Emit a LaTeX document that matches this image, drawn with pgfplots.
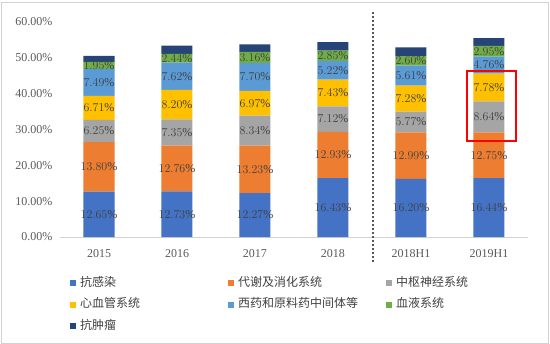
\documentclass[border=0pt]{standalone}
\usepackage{pgfplots}
\pgfplotsset{compat=1.18}
\usepackage{pgfplotstable}
\usepackage{fontspec}
\setmainfont{Liberation Serif}
\newfontfamily\cjk{Noto Sans CJK SC}
\definecolor{c1}{HTML}{4472C4}
\definecolor{c2}{HTML}{ED7D31}
\definecolor{c3}{HTML}{A5A5A5}
\definecolor{c4}{HTML}{FFC000}
\definecolor{c5}{HTML}{5B9BD5}
\definecolor{c6}{HTML}{70AD47}
\definecolor{c7}{HTML}{264478}
\definecolor{lbl}{HTML}{404040}
\definecolor{tk}{HTML}{595959}

\pgfplotstableread{
x inf met cns cv api blood onc
0 12.65 13.80 6.25 6.71 7.49 1.95 1.70
1 12.73 12.76 7.35 8.20 7.62 2.44 2.30
2 12.27 13.23 8.34 6.97 7.70 3.16 2.10
3 16.43 12.93 7.12 7.43 5.22 2.85 2.40
4 16.20 12.99 5.77 7.28 5.61 2.60 2.50
5 16.44 12.75 8.64 7.78 4.76 2.95 2.20
}\data

\pgfplotsset{
 common/.style={
  scale only axis,
  width=468bp, height=215bp,
  at={(60bp,107bp)}, anchor=south west,
  xmin=-0.5, xmax=5.5,
  ymin=0, ymax=60,
 },
 lbl/.style={
   draw=none, mark=none,
   nodes near coords={\pgfmathprintnumber[fixed,fixed zerofill,precision=2]{\pgfplotspointmeta}\%},
   point meta=explicit,
   every node near coord/.append style={anchor=center, font=\fontsize{12bp}{14bp}\selectfont, text=lbl, inner sep=0pt},
 },
}

\begin{document}
\begin{tikzpicture}
\path[use as bounding box] (0,0) rectangle (550bp,344bp);
\draw[gray!35, line width=0.8bp] (1bp,1bp) rectangle (548.5bp,342bp);
\begin{axis}[
  common,
  ybar stacked,
  bar width=31bp,
  xtick=data,
  xticklabels={2015,2016,2017,2018,2018H1,2019H1},
  ytick={0,10,20,30,40,50,60},
  yticklabels={0.00\%,10.00\%,20.00\%,30.00\%,40.00\%,50.00\%,60.00\%},
  major tick length=0pt,
  axis x line*=bottom,
  axis y line*=left,
  x axis line style={draw=gray!35, line width=0.8bp, -},
  y axis line style={draw=none},
  tick label style={font=\fontsize{12bp}{14bp}\selectfont, text=tk},
  xticklabel style={yshift=-9bp},
  yticklabel style={xshift=-4bp},
  clip=false,
  legend columns=3,
  legend cell align=left,
  legend image code/.code={\fill[#1,draw=none] (0bp,-3bp) rectangle (6bp,3bp);},
  legend style={draw=none, fill=none, inner sep=0pt, anchor=north west,
    at={(axis description cs:0.0214,-0.186)},
    row sep=9.5bp,
    nodes={inner sep=0pt, text height=9bp, text depth=3bp, font=\cjk\fontsize{12bp}{14bp}\selectfont, text=lbl},
    /tikz/every odd column/.append style={column sep=4bp}},
]
\addplot[fill=c1, draw=none] table[x=x,y=inf]{\data};
\addplot[fill=c2, draw=none] table[x=x,y=met]{\data};
\addplot[fill=c3, draw=none] table[x=x,y=cns]{\data};
\addplot[fill=c4, draw=none] table[x=x,y=cv]{\data};
\addplot[fill=c5, draw=none] table[x=x,y=api]{\data};
\addplot[fill=c6, draw=none] table[x=x,y=blood]{\data};
\addplot[fill=c7, draw=none] table[x=x,y=onc]{\data};
\legend{\makebox[148bp][l]{抗感染},\makebox[148bp][l]{代谢及消化系统},\makebox[148bp][l]{中枢神经系统},
        \makebox[148bp][l]{心血管系统},\makebox[148bp][l]{西药和原料药中间体等},\makebox[148bp][l]{血液系统},
        \makebox[148bp][l]{抗肿瘤}}
\end{axis}
\begin{axis}[common, hide axis, clip=false]
\addplot[lbl] table[x=x, y expr={\thisrow{inf}/2}, meta=inf]{\data};
\addplot[lbl] table[x=x, y expr={\thisrow{inf}+\thisrow{met}/2}, meta=met]{\data};
\addplot[lbl] table[x=x, y expr={\thisrow{inf}+\thisrow{met}+\thisrow{cns}/2}, meta=cns]{\data};
\addplot[lbl] table[x=x, y expr={\thisrow{inf}+\thisrow{met}+\thisrow{cns}+\thisrow{cv}/2}, meta=cv]{\data};
\addplot[lbl] table[x=x, y expr={\thisrow{inf}+\thisrow{met}+\thisrow{cns}+\thisrow{cv}+\thisrow{api}/2}, meta=api]{\data};
\addplot[lbl] table[x=x, y expr={\thisrow{inf}+\thisrow{met}+\thisrow{cns}+\thisrow{cv}+\thisrow{api}+\thisrow{blood}/2}, meta=blood]{\data};
\end{axis}
\draw[tk, line width=1.5bp, dash pattern=on 2bp off 2bp] (373bp,82bp) -- (373bp,332bp);
\draw[red, line width=2bp] (467bp,203bp) rectangle (516bp,273bp);
\end{tikzpicture}
\end{document}
